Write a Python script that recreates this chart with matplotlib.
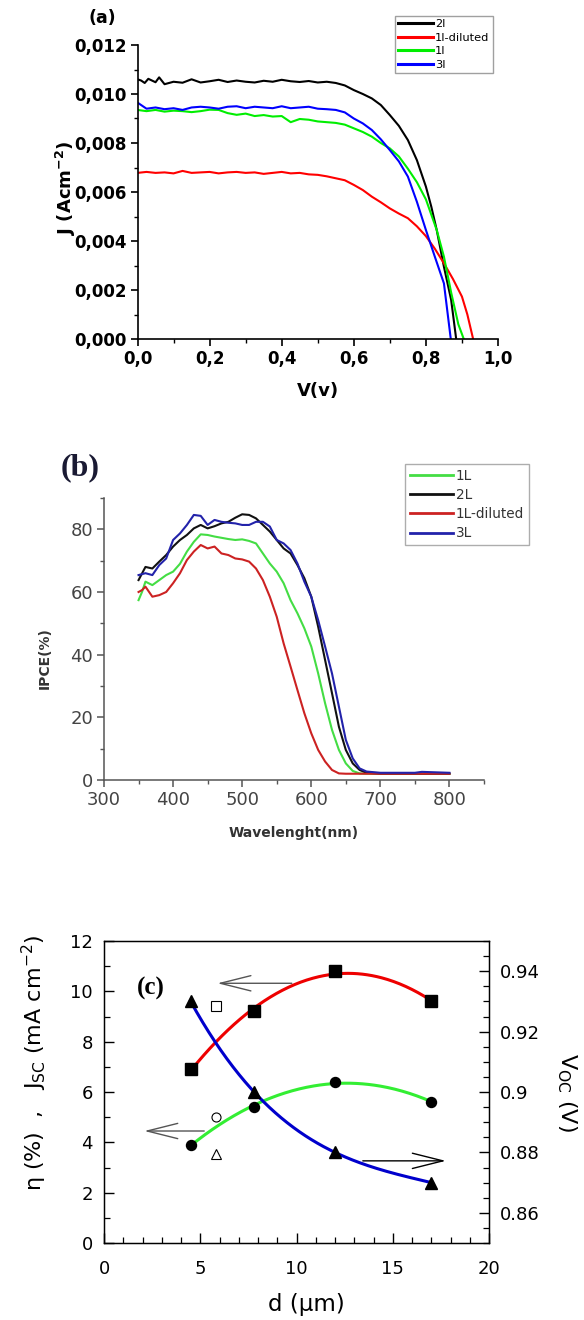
import numpy as np
import matplotlib
matplotlib.use("Agg")
import matplotlib.pyplot as plt
from matplotlib.ticker import MultipleLocator, FuncFormatter

plt.rcParams['font.family'] = ['DejaVu Sans']
plt.rcParams['mathtext.fontset'] = 'dejavusans'

# ---------------- (a) J-V curves ----------------
jv_labels = ["2l", "1l-diluted", "1l", "3l"]
jv_colors = ["#000000", "#ff0000", "#00ee00", "#0000ff"]

v_2l = [0.0, 0.01, 0.02, 0.03, 0.05, 0.06, 0.075, 0.1, 0.125, 0.15, 0.175, 0.2, 0.225, 0.25, 0.275, 0.3,
        0.325, 0.35, 0.375, 0.4, 0.425, 0.45, 0.475, 0.5, 0.525, 0.55, 0.575, 0.6, 0.625, 0.65, 0.675,
        0.7, 0.725, 0.75, 0.775, 0.8, 0.815, 0.83, 0.85, 0.87, 0.884]
j_2l = [0.0106, 0.01055, 0.01045, 0.01062, 0.01048, 0.01068, 0.01040, 0.01050, 0.01046, 0.01060, 0.01047,
        0.01052, 0.01058, 0.01049, 0.01055, 0.01050, 0.01047, 0.01054, 0.01050, 0.01058, 0.01052, 0.01049,
        0.01053, 0.01047, 0.01050, 0.01045, 0.01035, 0.01016, 0.01000, 0.00982, 0.00955, 0.00914, 0.00870,
        0.00812, 0.00730, 0.00622, 0.00540, 0.00445, 0.00295, 0.00160, 0.0]

v_1ld = [0.0, 0.025, 0.05, 0.075, 0.1, 0.125, 0.15, 0.175, 0.2, 0.225, 0.25, 0.275, 0.3, 0.325, 0.35,
         0.375, 0.4, 0.425, 0.45, 0.475, 0.5, 0.525, 0.55, 0.575, 0.6, 0.625, 0.65, 0.675, 0.7, 0.725,
         0.75, 0.775, 0.8, 0.825, 0.85, 0.875, 0.9, 0.915, 0.931]
j_1ld = [0.00678, 0.00682, 0.00678, 0.00680, 0.00676, 0.00686, 0.00678, 0.00680, 0.00682, 0.00676,
         0.00680, 0.00682, 0.00678, 0.00680, 0.00674, 0.00678, 0.00682, 0.00676, 0.00678, 0.00672,
         0.00670, 0.00664, 0.00656, 0.00648, 0.00629, 0.00608, 0.00581, 0.00558, 0.00533, 0.00512,
         0.00493, 0.00460, 0.00420, 0.00368, 0.00309, 0.00245, 0.00173, 0.00100, 0.0]

v_1l = [0.0, 0.025, 0.05, 0.075, 0.1, 0.125, 0.15, 0.175, 0.2, 0.225, 0.25, 0.275, 0.3, 0.325, 0.35,
        0.375, 0.4, 0.425, 0.45, 0.475, 0.5, 0.525, 0.55, 0.575, 0.6, 0.625, 0.65, 0.675, 0.7, 0.725,
        0.75, 0.775, 0.8, 0.83, 0.85, 0.87, 0.89, 0.905]
j_1l = [0.00935, 0.00930, 0.00935, 0.00928, 0.00932, 0.00930, 0.00926, 0.00930, 0.00936, 0.00935,
        0.00922, 0.00915, 0.00920, 0.00910, 0.00914, 0.00908, 0.00910, 0.00885, 0.00898, 0.00895,
        0.00888, 0.00885, 0.00882, 0.00875, 0.00860, 0.00845, 0.00826, 0.00800, 0.00778, 0.00745,
        0.00695, 0.00640, 0.00570, 0.00445, 0.00336, 0.00190, 0.00060, 0.0]

v_3l = [0.0, 0.01, 0.025, 0.05, 0.075, 0.1, 0.125, 0.15, 0.175, 0.2, 0.225, 0.25, 0.275, 0.3, 0.325,
        0.35, 0.375, 0.4, 0.425, 0.45, 0.475, 0.5, 0.525, 0.55, 0.575, 0.6, 0.625, 0.65, 0.675, 0.7,
        0.725, 0.75, 0.775, 0.8, 0.825, 0.85, 0.869]
j_3l = [0.00965, 0.00955, 0.00940, 0.00945, 0.00938, 0.00942, 0.00935, 0.00945, 0.00948, 0.00945,
        0.00940, 0.00948, 0.00950, 0.00942, 0.00948, 0.00945, 0.00942, 0.00950, 0.00942, 0.00945,
        0.00948, 0.00940, 0.00938, 0.00935, 0.00925, 0.00900, 0.00880, 0.00853, 0.00815, 0.00771,
        0.00725, 0.00663, 0.00560, 0.00445, 0.00335, 0.00227, 0.0]

# ---------------- (b) IPCE ----------------
ipce_labels = ["1L", "2L", "1L-diluted", "3L"]
ipce_colors = ["#44dd44", "#111111", "#cc2222", "#2222aa"]
wl_1l = [350, 355, 360, 370, 380, 390, 400, 410, 420, 430, 440, 450, 460, 470, 480, 490, 500, 510, 520,
         530, 540, 550, 560, 570, 580, 590, 600, 610, 620, 630, 640, 650, 660, 670, 680, 700, 750, 800]
ipce_1l = [57.4, 60.0, 63.3, 62.2, 63.8, 65.4, 66.5, 69.0, 72.9, 76.0, 78.4, 78.2, 77.7, 77.3, 76.9, 76.6,
           76.8, 76.3, 75.5, 72.3, 69.1, 66.5, 62.8, 57.4, 53.2, 48.4, 42.6, 34.0, 24.5, 16.0, 9.6, 5.3,
           2.9, 2.1, 2.0, 2.0, 2.0, 2.0]
wl_2l = [350, 360, 370, 380, 390, 400, 410, 420, 430, 440, 450, 460, 470, 480, 490, 500, 510, 520, 530,
         540, 550, 560, 570, 580, 590, 600, 610, 620, 630, 640, 650, 660, 670, 680, 700, 750, 800]
ipce_2l = [63.8, 68.0, 67.5, 69.7, 71.8, 74.5, 76.6, 78.2, 80.3, 81.4, 80.3, 81.0, 81.9, 82.4, 83.7, 84.8,
           84.6, 83.5, 81.4, 79.3, 76.6, 73.9, 72.3, 68.6, 64.4, 58.5, 48.9, 38.3, 27.7, 17.0, 9.6, 5.3,
           3.2, 2.3, 2.0, 2.0, 2.0]
wl_1ld = [350, 355, 360, 370, 380, 390, 400, 410, 420, 430, 440, 450, 460, 470, 480, 490, 500, 510, 520,
          530, 540, 550, 560, 570, 580, 590, 600, 610, 620, 630, 640, 650, 700, 750, 800]
ipce_1ld = [60.0, 60.6, 61.7, 58.5, 59.0, 60.0, 62.8, 66.0, 70.2, 72.9, 75.0, 73.9, 74.5, 72.3, 71.8,
            70.7, 70.4, 69.7, 67.5, 63.8, 58.5, 52.1, 43.6, 36.2, 28.7, 21.3, 14.9, 9.6, 5.9, 3.2, 2.1,
            2.0, 2.0, 2.0, 2.0]
wl_3l = [350, 360, 370, 380, 390, 400, 410, 420, 430, 440, 450, 460, 470, 480, 490, 500, 510, 520, 530,
         540, 550, 560, 570, 580, 590, 600, 610, 620, 630, 640, 650, 660, 670, 680, 700, 750, 760, 800]
ipce_3l = [65.4, 66.0, 65.4, 68.6, 70.7, 76.6, 78.7, 81.4, 84.6, 84.3, 81.4, 83.0, 82.4, 82.1, 81.9, 81.4,
           81.4, 82.4, 82.4, 80.9, 76.6, 75.5, 73.4, 69.1, 63.3, 58.5, 51.0, 42.6, 34.0, 23.4, 12.8, 6.9,
           3.7, 2.7, 2.3, 2.3, 2.6, 2.3]

# ---------------- (c) thickness dependence ----------------
d_um = [4.5, 7.8, 12.0, 17.0]
jsc = [6.9, 9.2, 10.8, 9.6]
eta = [3.9, 5.4, 6.4, 5.6]
voc = [0.930, 0.900, 0.880, 0.870]
open_x = [5.8, 5.8, 5.8]
open_y = [9.4, 5.0, 3.55]

W, H = 584, 1320
fig = plt.figure(figsize=(W / 100, H / 100), dpi=100)

def rect(l, r, t, b):
    return [l / W, 1 - b / H, (r - l) / W, (b - t) / H]

# ===== panel (a) =====
ax1 = fig.add_axes(rect(137.5, 498, 45, 339))
for v, j, lab, c in zip([v_2l, v_1ld, v_1l, v_3l], [j_2l, j_1ld, j_1l, j_3l], jv_labels, jv_colors):
    ax1.plot(v, j, color=c, lw=1.5, label=lab)
ax1.set_xlim(0, 1.0)
ax1.set_ylim(0, 0.012)
ax1.spines['top'].set_visible(False)
ax1.spines['right'].set_visible(False)
ax1.xaxis.set_major_locator(MultipleLocator(0.2))
ax1.xaxis.set_minor_locator(MultipleLocator(0.1))
ax1.yaxis.set_major_locator(MultipleLocator(0.002))
ax1.yaxis.set_minor_locator(MultipleLocator(0.001))
ax1.xaxis.set_major_formatter(FuncFormatter(lambda x, p: f"{x:.1f}".replace('.', ',')))
ax1.yaxis.set_major_formatter(FuncFormatter(lambda y, p: f"{y:.3f}".replace('.', ',')))
ax1.tick_params(which='major', direction='out', length=5, width=1.2, labelsize=12, pad=3)
ax1.tick_params(which='minor', direction='out', length=3, width=1.0)
for lbl in ax1.get_xticklabels() + ax1.get_yticklabels():
    lbl.set_fontweight('bold')
for s in ['left', 'bottom']:
    ax1.spines[s].set_linewidth(1.2)
ax1.set_xlabel("V(v)", fontsize=13, fontweight='bold', labelpad=10)
fig.text(66 / W, 1 - 188 / H, r"J (Acm$^{\mathbf{-2}}$)", fontsize=13, fontweight='bold',
         rotation=90, ha='center', va='center')
leg1 = ax1.legend(loc='upper left', bbox_to_anchor=(395 / W, 1 - 16 / H), bbox_transform=fig.transFigure,
                  fontsize=8.2, frameon=True, fancybox=False, edgecolor='#888888', handlelength=3.0,
                  handletextpad=0.2, labelspacing=0.3, borderpad=0.3, borderaxespad=0)
for h in leg1.get_lines():
    h.set_linewidth(2.2)
fig.text(102 / W, 1 - 18 / H, "(a)", fontsize=12.5, fontweight='bold', ha='center', va='center')

# ===== panel (b) =====
ax2 = fig.add_axes(rect(104, 484, 498, 780))
for w, y, lab, c in zip([wl_1l, wl_2l, wl_1ld, wl_3l], [ipce_1l, ipce_2l, ipce_1ld, ipce_3l], ipce_labels, ipce_colors):
    ax2.plot(w, y, color=c, lw=1.5, label=lab)
ax2.set_xlim(300, 850)
ax2.set_ylim(0, 90)
ax2.spines['top'].set_visible(False)
ax2.spines['right'].set_visible(False)
ax2.set_xticks([300, 400, 500, 600, 700, 800])
ax2.xaxis.set_minor_locator(MultipleLocator(50))
ax2.set_yticks([0, 20, 40, 60, 80])
ax2.yaxis.set_minor_locator(MultipleLocator(10))
ax2.tick_params(which='major', direction='out', length=5, width=1.1, labelsize=13, colors='#555555',
                labelcolor='#444444', pad=3)
ax2.tick_params(which='minor', direction='out', length=3, width=1.0, colors='#555555')
for s in ['left', 'bottom']:
    ax2.spines[s].set_color('#555555')
    ax2.spines[s].set_linewidth(1.1)
fig.text(294 / W, 1 - 833 / H, "Wavelenght(nm)", fontsize=10, fontweight='bold', color='#333333',
         ha='center', va='center')
fig.text(45 / W, 1 - 658 / H, "IPCE(%)", fontsize=10, fontweight='bold', color='#333333',
         rotation=90, ha='center', va='center')
leg2 = ax2.legend(loc='upper left', bbox_to_anchor=(405 / W, 1 - 464 / H), bbox_transform=fig.transFigure,
                  fontsize=9.8, frameon=True, fancybox=False, edgecolor='#999999', handlelength=3.2,
                  handletextpad=0.2, labelspacing=0.38, borderpad=0.35, borderaxespad=0)
for t in leg2.get_texts():
    t.set_color('#333333')
for h in leg2.get_lines():
    h.set_linewidth(2.0)
fig.text(80 / W, 1 - 468 / H, "(b)", fontsize=23, fontweight='bold', family='Liberation Serif',
         color='#1a1a33', ha='center', va='center')

# ===== panel (c) =====
ax3 = fig.add_axes(rect(104, 489, 941, 1243))
ax3r = ax3.twinx()
xf = np.linspace(min(d_um), max(d_um), 200)
ax3.plot(xf, np.polyval(np.polyfit(d_um, jsc, 2), xf), color='#ee0000', lw=2.2, zorder=2)
ax3.plot(xf, np.polyval(np.polyfit(d_um, eta, 2), xf), color='#33ee33', lw=2.2, zorder=2)
ax3r.plot(xf, np.polyval(np.polyfit(d_um, voc, 3), xf), color='#0000cc', lw=2.2, zorder=2)
ax3.plot(d_um, jsc, 's', color='black', ms=8, zorder=3)
ax3.plot(d_um, eta, 'o', color='black', ms=7.2, zorder=3)
ax3r.plot(d_um, voc, '^', color='black', ms=8.5, zorder=3)
ax3.plot(open_x[0], open_y[0], 's', mfc='white', mec='black', mew=0.8, ms=7)
ax3.plot(open_x[1], open_y[1], 'o', mfc='white', mec='black', mew=0.8, ms=6.5)
ax3.plot(open_x[2], open_y[2], '^', mfc='white', mec='black', mew=0.8, ms=7.5)

ax3.set_xlim(0, 20)
ax3.set_ylim(0, 12)
ax3r.set_ylim(0.85, 0.95)
ax3.xaxis.set_major_locator(MultipleLocator(5))
ax3.xaxis.set_minor_locator(MultipleLocator(1))
ax3.yaxis.set_major_locator(MultipleLocator(2))
ax3.yaxis.set_minor_locator(MultipleLocator(1))
ax3r.set_yticks([0.86, 0.88, 0.9, 0.92, 0.94])
ax3r.set_yticklabels(["0.86", "0.88", "0.9", "0.92", "0.94"])
ax3r.yaxis.set_minor_locator(MultipleLocator(0.005))
for a in (ax3, ax3r):
    a.tick_params(which='major', direction='in', length=7, width=1.0, labelsize=13, pad=8)
    a.tick_params(which='minor', direction='in', length=4, width=0.9)
ax3.tick_params(axis='x', which='major', pad=12)
for s in ax3.spines.values():
    s.set_linewidth(1.0)
fig.text(306 / W, 1 - 1305 / H, "d (μm)", fontsize=16.5, ha='center', va='center')
fig.text(34 / W, 1 - 1063 / H, r"η (%)  ,   J$_{\mathregular{SC}}$ (mA cm$^{\mathregular{-2}}$)",
         fontsize=16, rotation=90, ha='center', va='center')
fig.text(567 / W, 1 - 1092 / H, r"V$_{\mathregular{OC}}$ (V)", fontsize=16, rotation=-90,
         ha='center', va='center')

arrow_kw = dict(arrowstyle="->,head_length=2.2,head_width=0.55", lw=1.0)
ax3.annotate("", xy=(5.75, 10.32), xytext=(9.9, 10.32),
             arrowprops=dict(color='#555555', **arrow_kw))
ax3.annotate("", xy=(1.95, 4.45), xytext=(5.35, 4.45),
             arrowprops=dict(color='#555555', **arrow_kw))
ax3r.annotate("", xy=(17.9, 0.8772), xytext=(13.3, 0.8772),
              arrowprops=dict(color='black', **arrow_kw))
ax3.text(2.44, 10.13, "(c)", fontsize=18, fontweight='bold', family='Liberation Serif',
         ha='center', va='center')

fig.savefig("out.png", dpi=100)
